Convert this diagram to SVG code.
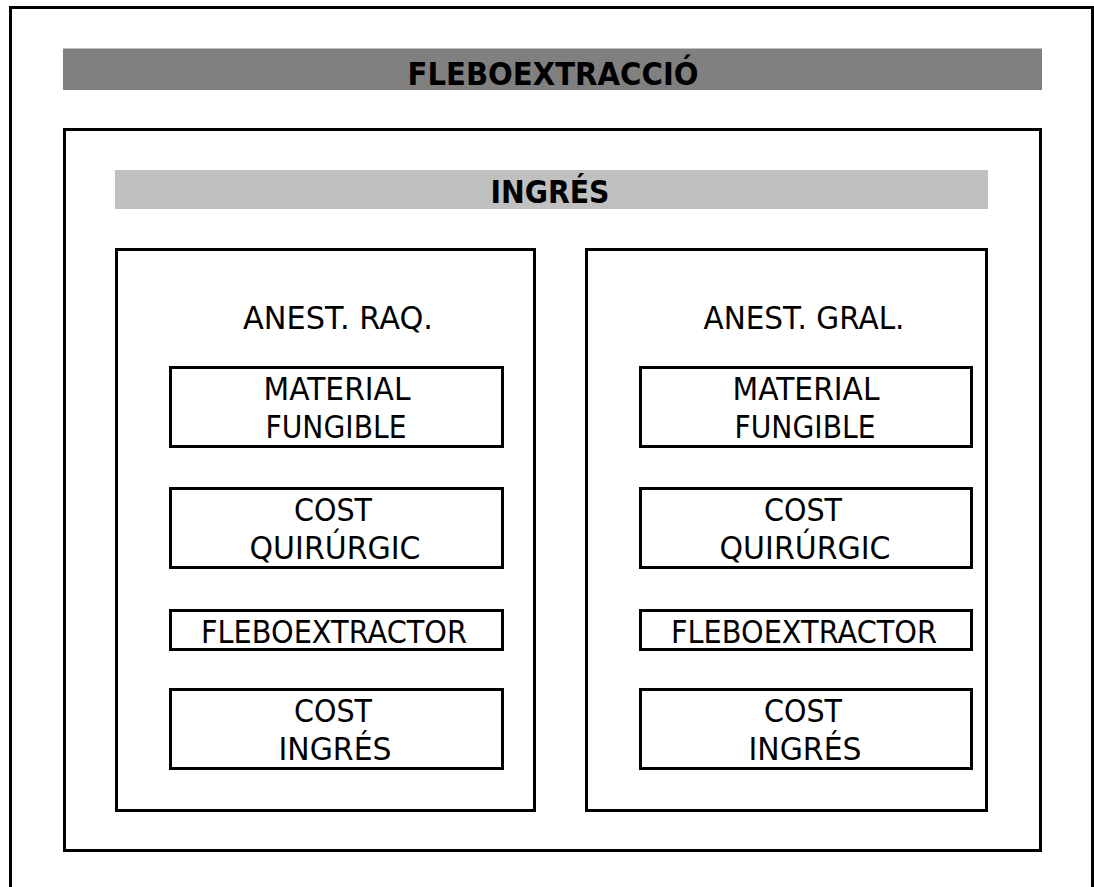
<svg xmlns="http://www.w3.org/2000/svg" width="1094" height="887" viewBox="0 0 1094 887">
  <style>
    .frame { fill: none; stroke: #000; stroke-width: 3; }
    .box { fill: #fff; stroke: #000; stroke-width: 3; }
    .t { font-family: "DejaVu Sans", "Liberation Sans", sans-serif; font-size: 32px; fill: #000; text-anchor: middle; }
    .tb { font-family: "DejaVu Sans", "Liberation Sans", sans-serif; font-size: 32px; font-weight: bold; fill: #000; text-anchor: middle; }
  </style>

  <rect width="1094" height="887" fill="#fff"/>

  <!-- outer page frame (continues past the bottom edge) -->
  <path class="frame" d="M10.5,892 V7.5 H1092.5 V892"/>

  <!-- title bar -->
  <g id="title">
    <rect x="63" y="48.5" width="979" height="41.5" fill="#808080"/>
    <text class="tb" x="553" y="85" textLength="291" lengthAdjust="spacingAndGlyphs">FLEBOEXTRACCIÓ</text>
  </g>

  <!-- admission frame -->
  <g id="ingres">
    <rect class="frame" x="64.5" y="129.5" width="976" height="721"/>
    <rect x="115" y="170" width="873" height="39" fill="#c0c0c0"/>
    <text class="tb" x="550" y="203" font-size="30" textLength="119" lengthAdjust="spacingAndGlyphs">INGRÉS</text>
  </g>

  <!-- spinal anaesthesia column -->
  <g id="anest-raq">
    <rect class="frame" x="116.5" y="249.5" width="418" height="561"/>
    <text class="t" x="338" y="329" textLength="190" lengthAdjust="spacingAndGlyphs">ANEST. RAQ.</text>
  </g>
  <g id="raq-material">
    <rect class="box" x="170.5" y="367.5" width="332" height="79"/>
    <text class="t" x="337" y="400" textLength="147" lengthAdjust="spacingAndGlyphs">MATERIAL</text>
    <text class="t" x="336" y="438" textLength="141" lengthAdjust="spacingAndGlyphs">FUNGIBLE</text>
  </g>
  <g id="raq-quirurgic">
    <rect class="box" x="170.5" y="488.5" width="332" height="79"/>
    <text class="t" x="333" y="521" textLength="78" lengthAdjust="spacingAndGlyphs">COST</text>
    <text class="t" x="335" y="559" textLength="171" lengthAdjust="spacingAndGlyphs">QUIRÚRGIC</text>
  </g>
  <g id="raq-fleboextractor">
    <rect class="box" x="170.5" y="610.5" width="332" height="39"/>
    <text class="t" x="334" y="643" textLength="266" lengthAdjust="spacingAndGlyphs">FLEBOEXTRACTOR</text>
  </g>
  <g id="raq-cost-ingres">
    <rect class="box" x="170.5" y="689.5" width="332" height="79"/>
    <text class="t" x="333" y="722" textLength="78" lengthAdjust="spacingAndGlyphs">COST</text>
    <text class="t" x="335" y="760" textLength="113" lengthAdjust="spacingAndGlyphs">INGRÉS</text>
  </g>

  <!-- general anaesthesia column -->
  <g id="anest-gral">
    <rect class="frame" x="586.5" y="249.5" width="400" height="561"/>
    <text class="t" x="804" y="329" textLength="201" lengthAdjust="spacingAndGlyphs">ANEST. GRAL.</text>
  </g>
  <g id="gral-material">
    <rect class="box" x="640.5" y="367.5" width="331" height="79"/>
    <text class="t" x="806" y="400" textLength="147" lengthAdjust="spacingAndGlyphs">MATERIAL</text>
    <text class="t" x="805" y="438" textLength="141" lengthAdjust="spacingAndGlyphs">FUNGIBLE</text>
  </g>
  <g id="gral-quirurgic">
    <rect class="box" x="640.5" y="488.5" width="331" height="79"/>
    <text class="t" x="803" y="521" textLength="78" lengthAdjust="spacingAndGlyphs">COST</text>
    <text class="t" x="805" y="559" textLength="171" lengthAdjust="spacingAndGlyphs">QUIRÚRGIC</text>
  </g>
  <g id="gral-fleboextractor">
    <rect class="box" x="640.5" y="610.5" width="331" height="39"/>
    <text class="t" x="804" y="643" textLength="266" lengthAdjust="spacingAndGlyphs">FLEBOEXTRACTOR</text>
  </g>
  <g id="gral-cost-ingres">
    <rect class="box" x="640.5" y="689.5" width="331" height="79"/>
    <text class="t" x="803" y="722" textLength="78" lengthAdjust="spacingAndGlyphs">COST</text>
    <text class="t" x="805" y="760" textLength="113" lengthAdjust="spacingAndGlyphs">INGRÉS</text>
  </g>

  <!-- no connectors in this layout -->
  <g id="connectors"/>
</svg>
